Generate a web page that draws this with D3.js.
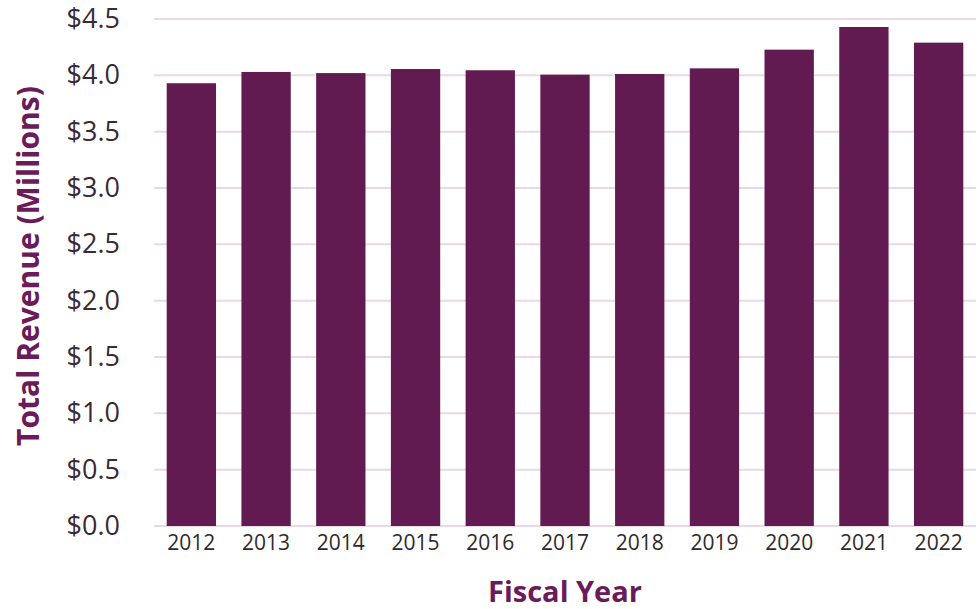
<!DOCTYPE html>
<html><head><meta charset="utf-8">
<script src="https://cdn.jsdelivr.net/npm/d3@7"></script>
<style>body{margin:0;background:#fff;} svg{display:block;}</style>
</head><body>
<svg id="chart" width="980" height="609"></svg>
<script>
const years = ["2012","2013","2014","2015","2016","2017","2018","2019","2020","2021","2022"];
const revenue = [3.93, 4.03, 4.02, 4.056, 4.045, 4.006, 4.012, 4.062, 4.228, 4.429, 4.29];
const yTicks = [0, 0.5, 1.0, 1.5, 2.0, 2.5, 3.0, 3.5, 4.0, 4.5];

(function () {
const svg = d3.select("#chart");
const mLeft = 154, mRight = 976, mTop = 19, mBottom = 526;
const x = d3.scaleBand().domain(years).range([mLeft, mRight]).paddingInner(0.34).paddingOuter(0.17);
const y = d3.scaleLinear().domain([0, 4.5]).range([mBottom, mTop]);

svg.append("g").selectAll("line").data(yTicks).join("line")
  .attr("x1", mLeft).attr("x2", mRight)
  .attr("y1", d => y(d)).attr("y2", d => y(d))
  .attr("stroke", "#ead8e4").attr("stroke-width", 2);

svg.append("g").selectAll("rect").data(revenue).join("rect")
  .attr("x", (d, i) => x(years[i]))
  .attr("width", x.bandwidth())
  .attr("y", d => y(d))
  .attr("height", d => y(0) - y(d))
  .attr("fill", "#621b50");

const yAxis = svg.append("g").attr("transform", `translate(${mLeft},0)`)
  .call(d3.axisLeft(y).tickValues(yTicks).tickSize(0).tickPadding(34).tickFormat(d => "$" + d3.format(".1f")(d)));
yAxis.select(".domain").remove();
yAxis.selectAll("text").attr("font-family", "'Open Sans', 'Noto Sans', sans-serif")
  .attr("font-size", 27).attr("fill", "#3a2a35");

const xAxis = svg.append("g").attr("transform", `translate(0,${mBottom})`)
  .call(d3.axisBottom(x).tickSize(0).tickPadding(9));
xAxis.select(".domain").remove();
xAxis.selectAll("text").attr("font-family", "'Open Sans', 'Noto Sans', sans-serif")
  .attr("font-size", 21).attr("fill", "#2e2a2d");

svg.append("text").attr("x", 565).attr("y", 602).attr("text-anchor", "middle")
  .attr("font-family", "'Open Sans', 'Noto Sans', sans-serif").attr("font-weight", "bold")
  .attr("font-size", 29).attr("fill", "#6a1b5a").text("Fiscal Year");
svg.append("text").attr("transform", "translate(39,266) rotate(-90)").attr("text-anchor", "middle")
  .attr("font-family", "'Open Sans', 'Noto Sans', sans-serif").attr("font-weight", "bold")
  .attr("font-size", 30).attr("fill", "#6a1b5a").text("Total Revenue (Millions)");
})();
</script>
</body></html>
